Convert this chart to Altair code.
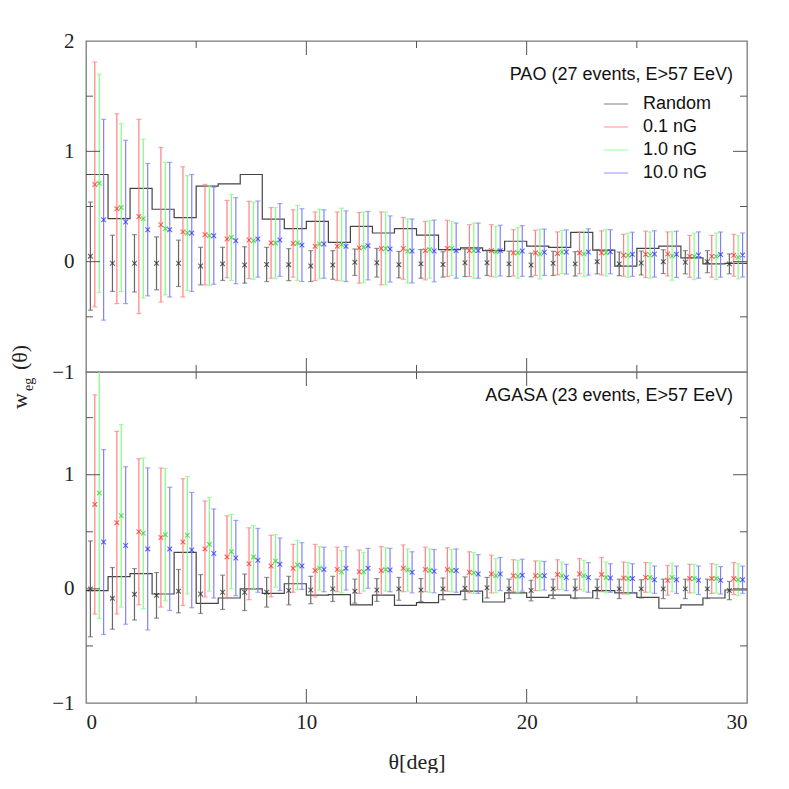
import altair as alt
import pandas as pd

# ---------------- data ----------------
SERIES = ["Random", "0.1 nG", "1.0 nG", "10.0 nG"]
THETA_EDGES = list(range(31))

PAO_STEP = [0.79, 0.39, 0.665, 0.475, 0.40, 0.685, 0.705, 0.79, 0.385, 0.30,
            0.365, 0.175, 0.32, 0.26, 0.30, 0.24, 0.11, 0.125, 0.10, 0.185,
            0.14, 0.13, 0.265, 0.105, -0.04, 0.12, 0.14, 0.035, -0.02, -0.015]
PAO_RANDOM_MEAN = [0.05, -0.015, -0.015, -0.015, -0.015, -0.04, -0.02, -0.03, -0.025, -0.027,
                   -0.04, -0.03, -0.005, -0.01, -0.027, -0.02, -0.025, -0.01, -0.01, -0.02,
                   -0.03, -0.015, -0.02, 0.0, -0.02, -0.012, 0.0, -0.005, 0.0, -0.02]
PAO_RANDOM_ERR = [0.49, 0.255, 0.26, 0.24, 0.21, 0.17, 0.15, 0.165, 0.155, 0.145,
                  0.14, 0.13, 0.12, 0.13, 0.12, 0.13, 0.115, 0.125, 0.115, 0.115,
                  0.107, 0.11, 0.11, 0.11, 0.107, 0.108, 0.108, 0.105, 0.10, 0.09]
PAO_01_MEAN = [0.70, 0.48, 0.41, 0.335, 0.27, 0.245, 0.205, 0.197, 0.17, 0.165,
               0.14, 0.14, 0.125, 0.12, 0.12, 0.10, 0.12, 0.10, 0.10, 0.08,
               0.08, 0.075, 0.08, 0.08, 0.058, 0.067, 0.07, 0.048, 0.048, 0.058]
PAO_01_ERR = [1.11, 0.86, 0.88, 0.70, 0.59, 0.455, 0.35, 0.35, 0.32, 0.305,
              0.31, 0.31, 0.32, 0.33, 0.28, 0.265, 0.255, 0.235, 0.235, 0.21,
              0.205, 0.195, 0.19, 0.20, 0.19, 0.21, 0.20, 0.19, 0.19, 0.19]
PAO_1_MEAN = [0.71, 0.49, 0.39, 0.30, 0.26, 0.235, 0.22, 0.19, 0.17, 0.17,
              0.16, 0.155, 0.13, 0.12, 0.097, 0.11, 0.12, 0.10, 0.09, 0.08,
              0.07, 0.088, 0.07, 0.08, 0.058, 0.06, 0.052, 0.048, 0.048, 0.04]
PAO_1_ERR = [0.99, 0.76, 0.72, 0.60, 0.52, 0.45, 0.39, 0.35, 0.32, 0.34,
             0.315, 0.33, 0.32, 0.33, 0.29, 0.26, 0.245, 0.25, 0.23, 0.23,
             0.225, 0.195, 0.205, 0.21, 0.20, 0.21, 0.22, 0.21, 0.21, 0.195]
PAO_10_MEAN = [0.38, 0.36, 0.29, 0.29, 0.26, 0.235, 0.19, 0.205, 0.197, 0.15,
               0.16, 0.14, 0.145, 0.115, 0.097, 0.097, 0.10, 0.10, 0.10, 0.097,
               0.085, 0.088, 0.088, 0.09, 0.067, 0.07, 0.067, 0.06, 0.064, 0.06]
PAO_10_ERR = [0.91, 0.74, 0.60, 0.61, 0.53, 0.44, 0.39, 0.345, 0.33, 0.33,
              0.31, 0.32, 0.31, 0.30, 0.29, 0.28, 0.25, 0.25, 0.23, 0.23,
              0.21, 0.20, 0.21, 0.20, 0.20, 0.21, 0.21, 0.21, 0.205, 0.20]

AGASA_STEP = [-0.015, 0.107, 0.133, -0.045, 0.32, -0.127, -0.08, 0.0, -0.04, 0.045,
              -0.055, -0.05, -0.14, -0.055, -0.145, -0.12, -0.05, -0.02, -0.115, -0.035,
              -0.075, -0.055, -0.08, -0.015, -0.035, -0.075, -0.17, -0.14, -0.08, -0.01]
AGASA_RANDOM_MEAN = [0.0, -0.083, -0.048, -0.057, -0.02, -0.045, -0.03, -0.03, -0.03, -0.015,
                     -0.01, 0.0, -0.02, -0.01, 0.0, -0.01, 0.0, 0.005, 0.01, 0.0,
                     -0.015, 0.0, 0.0, 0.0, 0.0, 0.0, 0.0, 0.0, 0.0, -0.015]
AGASA_RANDOM_ERR = [0.42, 0.27, 0.225, 0.20, 0.19, 0.17, 0.15, 0.16, 0.13, 0.125,
                    0.12, 0.11, 0.105, 0.10, 0.10, 0.10, 0.095, 0.10, 0.09, 0.085,
                    0.09, 0.085, 0.085, 0.085, 0.085, 0.08, 0.085, 0.085, 0.085, 0.08]
AGASA_01_MEAN = [0.74, 0.58, 0.50, 0.45, 0.41, 0.35, 0.28, 0.22, 0.20, 0.18,
                 0.16, 0.17, 0.15, 0.16, 0.18, 0.17, 0.17, 0.145, 0.13, 0.115,
                 0.115, 0.125, 0.13, 0.125, 0.095, 0.10, 0.075, 0.09, 0.09, 0.09]
AGASA_01_ERR = [0.96, 0.80, 0.64, 0.61, 0.555, 0.42, 0.36, 0.315, 0.27, 0.21,
                0.23, 0.195, 0.19, 0.21, 0.205, 0.195, 0.19, 0.18, 0.165, 0.14,
                0.13, 0.13, 0.135, 0.15, 0.14, 0.13, 0.13, 0.125, 0.13, 0.14]
AGASA_1_MEAN = [0.84, 0.64, 0.487, 0.475, 0.47, 0.39, 0.326, 0.28, 0.245, 0.21,
                0.18, 0.15, 0.15, 0.17, 0.165, 0.16, 0.16, 0.14, 0.115, 0.11,
                0.115, 0.115, 0.115, 0.10, 0.09, 0.10, 0.10, 0.09, 0.09, 0.08]
AGASA_1_ERR = [1.10, 0.80, 0.66, 0.58, 0.515, 0.41, 0.325, 0.275, 0.23, 0.215,
               0.19, 0.185, 0.17, 0.19, 0.185, 0.19, 0.185, 0.18, 0.15, 0.14,
               0.13, 0.12, 0.135, 0.135, 0.14, 0.13, 0.125, 0.125, 0.125, 0.14]
AGASA_10_MEAN = [0.41, 0.38, 0.35, 0.35, 0.34, 0.31, 0.27, 0.25, 0.215, 0.20,
                 0.17, 0.18, 0.18, 0.165, 0.145, 0.155, 0.16, 0.13, 0.13, 0.12,
                 0.115, 0.10, 0.10, 0.095, 0.09, 0.08, 0.08, 0.075, 0.075, 0.08]
AGASA_10_ERR = [0.81, 0.69, 0.71, 0.54, 0.505, 0.39, 0.33, 0.28, 0.23, 0.205,
                0.195, 0.19, 0.175, 0.19, 0.18, 0.19, 0.19, 0.17, 0.145, 0.14,
                0.125, 0.115, 0.13, 0.125, 0.13, 0.12, 0.12, 0.125, 0.12, 0.12]

X_LABELS = [0, 10, 20, 30]
X_MAJOR = [10, 20]
X_MINOR = [5, 15, 25]
Y_MAJOR = [0, 1]
Y_MINOR = [-0.5, 0.5, 1.5]
PAO_Y_LABELS = [-1, 0, 1, 2]
AGASA_Y_LABELS = [-1, 0, 1]

PAO_TITLE = "PAO (27 events, E>57 EeV)"
AGASA_TITLE = "AGASA (23 events, E>57 EeV)"

# ---------------- style ----------------
BAR_COLORS = ["#666666", "#ff8080", "#80ff80", "#8080ff"]
MARK_COLORS = ["#222222", "#ff2020", "#20d020", "#2020ff"]
OFFSETS = [0.2, 0.4, 0.6, 0.8]
W, H = 661, 331
SERIF = "Liberation Serif"
SANS = "Liberation Sans"
TICK = "#555555"
XSHAPE = "M -1 -1 L 1 1 M -1 1 L 1 -1"


def panel(step, means, errs, ydomain, ylabels, title, top):
    rows = []
    for s, off, m, e in zip(SERIES, OFFSETS, means, errs):
        for i in range(30):
            rows.append(dict(series=s, x=i + off, mean=m[i],
                             lo=m[i] - e[i], hi=m[i] + e[i]))
    df = pd.DataFrame(rows)
    step_df = pd.DataFrame({"x": THETA_EDGES, "y": step + [step[-1]]})

    xscale = alt.Scale(domain=[0, 30], nice=False, zero=False)
    yscale = alt.Scale(domain=ydomain, nice=False, zero=False)
    if top:
        xaxis = None
    else:
        xaxis = alt.Axis(values=X_LABELS, title="θ[deg]", ticks=False, domain=False,
                         grid=False, labelFont=SERIF, labelFontSize=21,
                         labelColor="#222", labelPadding=8, titleFont=SERIF,
                         titleFontSize=22, titleFontWeight="normal",
                         titleColor="#222", titlePadding=19)
    yaxis = alt.Axis(values=ylabels, title=None, ticks=False, domain=False,
                     grid=False, labelFont=SERIF, labelFontSize=21,
                     labelColor="#222", labelPadding=12,
                     labelExpr="datum.value < 0 ? '\u2212' + (-datum.value) : datum.label")

    X = lambda f: alt.X(f, scale=xscale, axis=xaxis)
    Y = lambda f: alt.Y(f, scale=yscale, axis=yaxis)

    if top:
        legend = alt.Legend(title=None, orient="none", legendX=517, legendY=50,
                            symbolType="stroke", symbolSize=576,
                            symbolStrokeWidth=1.2, labelFont=SANS,
                            labelFontSize=18, labelColor="#111",
                            labelOffset=14, rowPadding=1, padding=0)
    else:
        legend = None
    color = alt.Color("series:N", scale=alt.Scale(domain=SERIES, range=BAR_COLORS),
                      legend=legend)

    step_line = alt.Chart(step_df).mark_line(
        interpolate="step-after", color="#444444", strokeWidth=1.2, clip=True
    ).encode(x=X("x:Q"), y=Y("y:Q"))

    bars = alt.Chart(df).mark_rule(strokeWidth=1.2, clip=True).encode(
        x=X("x:Q"), y=Y("lo:Q"), y2="hi:Q", color=color)

    caps_lo = alt.Chart(df).mark_tick(orient="horizontal", size=5, thickness=1.2,
                                      clip=True).encode(
        x=X("x:Q"), y=Y("lo:Q"), color=color)
    caps_hi = alt.Chart(df).mark_tick(orient="horizontal", size=5, thickness=1.2,
                                      clip=True).encode(
        x=X("x:Q"), y=Y("hi:Q"), color=color)

    marks = alt.Chart(df).mark_point(shape=XSHAPE, size=22, filled=False,
                                     strokeWidth=1.1, clip=True).encode(
        x=X("x:Q"), y=Y("mean:Q"),
        stroke=alt.Stroke("series:N",
                          scale=alt.Scale(domain=SERIES, range=MARK_COLORS),
                          legend=None))

    layers = [step_line, bars, caps_lo, caps_hi, marks]

    # inward ticks on all four sides
    for vals, ln in ((X_MAJOR, 14), (X_MINOR, 7)):
        tdf = pd.DataFrame({"v": vals})
        layers.append(alt.Chart(tdf).mark_rule(color=TICK, strokeWidth=1).encode(
            x=X("v:Q"), y=alt.value(H), y2=alt.value(H - ln)))
        layers.append(alt.Chart(tdf).mark_rule(color=TICK, strokeWidth=1).encode(
            x=X("v:Q"), y=alt.value(0), y2=alt.value(ln)))
    for vals, ln in ((Y_MAJOR, 14), (Y_MINOR, 7)):
        tdf = pd.DataFrame({"v": vals})
        layers.append(alt.Chart(tdf).mark_rule(color=TICK, strokeWidth=1).encode(
            y=Y("v:Q"), x=alt.value(0), x2=alt.value(ln)))
        layers.append(alt.Chart(tdf).mark_rule(color=TICK, strokeWidth=1).encode(
            y=Y("v:Q"), x=alt.value(W), x2=alt.value(W - ln)))

    tdf = pd.DataFrame({"t": [title]})
    layers.append(alt.Chart(tdf).mark_text(
        font=SANS, fontSize=18, align="right", baseline="middle", color="#111"
    ).encode(text="t:N", x=alt.value(647), y=alt.value(34 if top else 24)))

    if top:
        for txt, xx, yy, fs in (("w", -59, 368, 22), ("eg", -53, 350, 14),
                                ("(θ)", -59, 329, 22)):
            layers.append(alt.Chart(pd.DataFrame({"t": [txt]})).mark_text(
                font=SERIF, fontSize=fs, angle=270, align="left",
                baseline="alphabetic", color="#222"
            ).encode(text="t:N", x=alt.value(xx), y=alt.value(yy)))

    return alt.layer(*layers).properties(width=W, height=H)


top = panel(PAO_STEP,
            [PAO_RANDOM_MEAN, PAO_01_MEAN, PAO_1_MEAN, PAO_10_MEAN],
            [PAO_RANDOM_ERR, PAO_01_ERR, PAO_1_ERR, PAO_10_ERR],
            [-1, 2], PAO_Y_LABELS, PAO_TITLE, True)
bottom = panel(AGASA_STEP,
               [AGASA_RANDOM_MEAN, AGASA_01_MEAN, AGASA_1_MEAN, AGASA_10_MEAN],
               [AGASA_RANDOM_ERR, AGASA_01_ERR, AGASA_1_ERR, AGASA_10_ERR],
               [-1, 1.9], AGASA_Y_LABELS, AGASA_TITLE, False)

chart = (
    alt.vconcat(top, bottom, spacing=0, bounds="flush")
    .resolve_scale(color="independent", stroke="independent")
    .properties(padding={"left": 0, "top": 21, "right": 0, "bottom": 0})
    .configure_view(stroke="#7a7a7a", strokeWidth=1.3)
)

chart.save("out.html", embed_options={"renderer": "svg", "actions": False})
